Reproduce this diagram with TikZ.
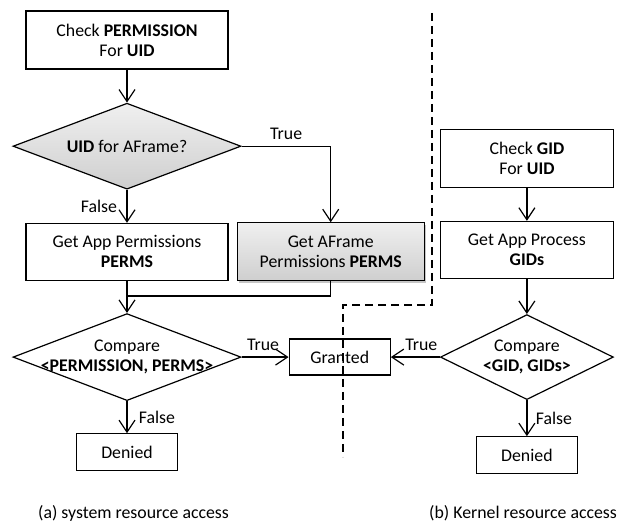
\documentclass[tikz,border=0pt]{standalone}
\usepackage{fontspec}
\setmainfont{Carlito}
\usetikzlibrary{arrows.meta, positioning, shapes.geometric, shadows}

\begin{document}
\begin{tikzpicture}[
        x=1pt, y=1pt,
        font=\fontsize{17.8}{20}\selectfont,
        line width=1.2pt,
        box/.style={draw, align=center, inner sep=0pt, minimum width=202pt, minimum height=58pt},
        dec/.style={draw, diamond, inner sep=0pt, minimum width=228pt, minimum height=87pt},
        shaded/.style={top color=gray!12, bottom color=gray!38},
        arr/.style={-{Straight Barb[length=12pt, width=16pt]}},
        divider/.style={dashed, dash pattern=on 8pt off 5pt, line width=1.6pt}
      ]
        \useasboundingbox (0,0) rectangle (619,522);
        % (a) system resource access
        \node[box] (chk) at (127,482) {Check \textbf{PERMISSION}\\For \textbf{UID}};
        \node[dec, shaded, minimum height=86pt, below=33pt of chk,
              label={center:\textbf{UID} for AFrame?}] (afq) {};
        \node[box, minimum height=57pt, below=33pt of afq] (app) {Get App Permissions\\\textbf{PERMS}};
        \node[box, shaded, minimum width=187pt, drop shadow={shadow xshift=2pt, shadow yshift=-2pt, opacity=0.45},
              right=8pt of app] (afr) {Get AFrame\\Permissions \textbf{PERMS}};
        \coordinate[below=15pt of app] (mrg);
        \node[dec, below=32pt of app,
              label={[align=center]center:Compare\\\textbf{<PERMISSION, PERMS>}}] (cmpa) {};
        \node[box, minimum width=101pt, minimum height=36pt, right=47pt of cmpa] (grant) {Granted};
        \node[box, minimum width=101pt, minimum height=37pt, below=32pt of cmpa] (dena) {Denied};
        % (b) kernel resource access
        \node[dec, minimum width=173pt, minimum height=85pt, right=49pt of grant,
              label={[align=center]center:Compare\\\textbf{<GID, GIDs>}}] (cmpb) {};
        \node[box, minimum width=173pt, minimum height=57pt, above=35pt of cmpb] (proc) {Get App Process\\\textbf{GIDs}};
        \node[box, minimum width=173pt, above=33pt of proc] (gid) {Check \textbf{GID}\\For \textbf{UID}};
        \node[box, minimum width=101pt, minimum height=37pt, below=36pt of cmpb] (denb) {Denied};
        % captions
        \node (capa) at (133.5,9) {(a) system resource access};
        \node (capb) at (523,9) {(b) Kernel resource access};
        % divider
        \coordinate (d1) at (432,509);
        \coordinate (d2) at (432,217);
        \coordinate (d3) at (343,217);
        \coordinate (d4) at (343,65);
        \draw[divider] (d1) -- (d2) -- (d3) -- (d4);
        % connectors
        \draw[arr] (chk) -- (afq);
        \draw[arr] (afq) -- node[left=6pt] {False} (app);
        \draw[arr] (afq.east) -| node[pos=0.25, above=3pt] {True} (afr.north);
        \draw (afr.south) |- (mrg);
        \draw[arr] (app.south) -- (cmpa.north);
        \draw[arr] (cmpa.east) -- node[above=3pt, xshift=-2pt] {True} (grant.west);
        \draw[arr] (cmpa.south) -- node[right=8pt] {False} (dena);
        \draw[arr] (gid) -- (proc);
        \draw[arr] (proc) -- (cmpb);
        \draw[arr] (cmpb.west) -- node[above=3pt, xshift=6pt] {True} (grant.east);
        \draw[arr] (cmpb.south) -- node[right=5pt] {False} (denb);
      \end{tikzpicture}
\end{document}
